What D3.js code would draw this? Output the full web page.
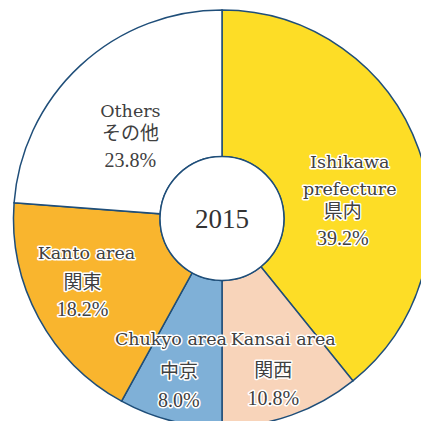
<!DOCTYPE html>
<html>
<head>
<meta charset="utf-8">
<script src="https://cdn.jsdelivr.net/npm/d3@7"></script>
<style>
  html, body { margin: 0; padding: 0; background: #fff; }
  svg { display: block; }
</style>
</head>
<body>
<div id="chart"></div>
<script>
// share of visitors by origin, 2015
const regionsEn = ["Ishikawa\nprefecture", "Kansai area", "Chukyo area", "Kanto area", "Others"];
const regionsJa = ["県内", "関西", "中京", "関東", "その他"];
const shares = [39.2, 10.8, 8.0, 18.2, 23.8];
const centerLabel = "2015";

const sliceColors = ["#fddd26", "#f8d4ba", "#7fb0d7", "#f9b52e", "#ffffff"];

// label tweaks: nudge from centroid, offset of jp/pct lines
const labelNudge = [[-9, -2], [13, -10], [-15, -14], [-8, -29], [7, 5]];
const subShift = [-7, -10, 8, -4, 0];
const lineGap = [[27, 50, 77], [0, 32, 60], [0, 33, 62], [0, 30, 57], [0, 23, 50]];

var width = 421,
    height = 421,
    cx = 222,
    cy = 218.5,
    radius = 208.5,
    inner = 62;

var svg = d3.select("#chart").append("svg")
    .attr("width", width)
    .attr("height", height)
  .append("g")
    .attr("transform", "translate(" + cx + "," + cy + ")");

var data = shares.map((v, i) => ({ en: regionsEn[i], ja: regionsJa[i], value: v, i: i }));

var pie = d3.pie()
    .sort(null)
    .value(d => d.value);

var arc = d3.arc()
    .innerRadius(inner)
    .outerRadius(radius);

var labelArc = d3.arc()
    .innerRadius(145)
    .outerRadius(145);

var arcs = pie(data);

svg.selectAll("path")
    .data(arcs)
    .enter()
    .append("path")
    .attr("d", arc)
    .style("fill", d => sliceColors[d.index])
    .style("stroke", "#1f4e79")
    .style("stroke-width", 1.5);

svg.append("circle")
    .attr("r", inner)
    .style("fill", "#fff")
    .style("stroke", "#1f4e79")
    .style("stroke-width", 1.5);

svg.append("text")
    .attr("x", 0)
    .attr("y", 9)
    .attr("text-anchor", "middle")
    .style("font-family", "'Liberation Serif', serif")
    .style("font-size", "27px")
    .style("fill", "#333")
    .text(centerLabel);

var labels = svg.selectAll(".lbl")
    .data(arcs)
    .enter()
    .append("g")
    .attr("class", "lbl")
    .attr("transform", d => {
        var c = labelArc.centroid(d);
        var n = labelNudge[d.index];
        return "translate(" + (c[0] + n[0]) + "," + (c[1] + n[1]) + ")";
    });

labels.each(function(d) {
    var g = d3.select(this);
    var i = d.index;
    var enLines = d.data.en.split("\n");
    var rows = [];
    rows.push({ t: enLines[0], x: 0, y: 0, f: "en" });
    if (enLines.length > 1) rows.push({ t: enLines[1], x: 0, y: lineGap[i][0], f: "en" });
    rows.push({ t: d.data.ja, x: subShift[i], y: lineGap[i][1], f: "ja" });
    rows.push({ t: d3.format(".1f")(d.data.value) + "%", x: subShift[i], y: lineGap[i][2], f: "num" });

    g.selectAll("text")
        .data(rows)
        .enter()
        .append("text")
        .attr("x", r => r.x)
        .attr("y", r => r.y)
        .attr("text-anchor", "middle")
        .style("font-family", r => r.f == "ja" ? "'Noto Sans CJK JP', sans-serif"
            : r.f == "num" ? "'Liberation Serif', serif" : "'DejaVu Serif', serif")
        .style("font-size", r => r.f == "ja" ? "19px" : r.f == "num" ? "20px" : "17.5px")
        .style("fill", "#404040")
        .style("stroke", "#fff")
        .style("stroke-width", 3)
        .style("stroke-linejoin", "round")
        .style("paint-order", "stroke")
        .text(r => r.t);
});
</script>
</body>
</html>
